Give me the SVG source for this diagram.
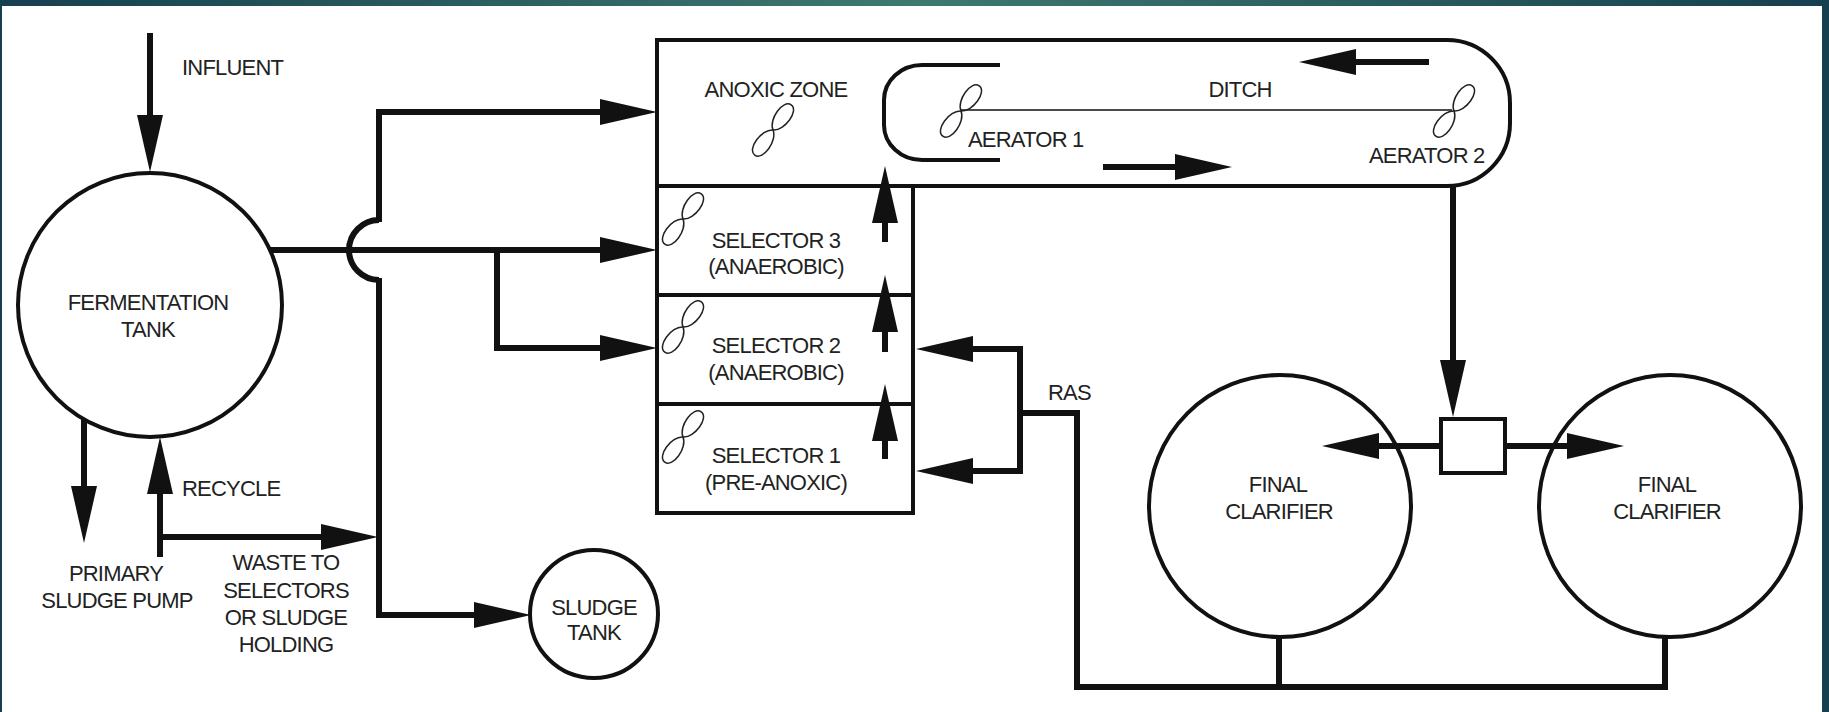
<svg xmlns="http://www.w3.org/2000/svg" width="1829" height="712" viewBox="0 0 1829 712">
<defs>
<linearGradient id="band" x1="0" y1="0" x2="1" y2="0">
<stop offset="0" stop-color="#163f4f"/>
<stop offset="0.5" stop-color="#3d7a6e"/>
<stop offset="1" stop-color="#163f4f"/>
</linearGradient>
<marker id="ah" markerUnits="userSpaceOnUse" markerWidth="58" markerHeight="28" viewBox="-1 -14 58 28" refX="0" refY="0" orient="auto">
<path d="M-1,-13 L56,0 L-1,13 Z" fill="#111"/>
</marker>
<g id="mixer">
<g transform="rotate(-54)">
<path d="M0 0 C6 -10 31 -10 31 0 C31 10 6 10 0 0 Z"/>
<path d="M0 0 C-6 10 -31 10 -31 0 C-31 -10 -6 -10 0 0 Z"/>
</g>
</g>
</defs>
<style>
.t{font-family:"Liberation Sans",Arial,Helvetica,sans-serif;font-size:22px;fill:#222;letter-spacing:-0.8px}
.m{text-anchor:middle}
.ln{fill:none;stroke:#111;stroke-width:6;stroke-linejoin:miter}
.arr{marker-end:url(#ah)}
.ol{fill:none;stroke:#111;stroke-width:4}
.tank{fill:#fff;stroke:#111;stroke-width:4}
.mix{fill:none;stroke:#222;stroke-width:1.5}
</style>
<rect x="0" y="0" width="1829" height="712" fill="url(#band)"/>
<rect x="2" y="6" width="1820" height="706" fill="#fff"/>

<g id="connectors">
<path class="ln arr" d="M150 33 V116"/>
<path class="ln arr" d="M268 250 H601"/>
<path class="ln arr" d="M379 222 V112 H601"/>
<path class="ln" d="M379 220 A30 30 0 0 0 379 280" stroke-width="5"/>
<path class="ln arr" d="M379 278 V615 H475"/>
<path class="ln arr" d="M497 250 V348 H601"/>
<path class="ln arr" d="M160 557 V493"/>
<path class="ln arr" d="M160 537 H322"/>
<path class="ln arr" d="M84 417 V487"/>
<path class="ln arr" d="M885 242 V222"/>
<path class="ln arr" d="M885 352 V331"/>
<path class="ln arr" d="M885 459 V440"/>
<path class="ln arr" d="M1020 413 V349 H972"/>
<path class="ln arr" d="M1020 413 V471 H972"/>
<path class="ln" d="M1020 413 H1077 V687 H1665 V637"/>
<path class="ln" d="M1279 687 V637"/>
<path class="ln arr" d="M1453 186 V361"/>
<path class="ln arr" d="M1439 446 H1378"/>
<path class="ln arr" d="M1506 446 H1568"/>
<path class="ln arr" d="M1429 62 H1355"/>
<path class="ln arr" d="M1103 167 H1176"/>
<text class="t" x="182" y="75">INFLUENT</text>
<text class="t" x="182" y="496">RECYCLE</text>
<text class="t m" x="116" y="581">PRIMARY</text>
<text class="t m" x="117" y="608">SLUDGE PUMP</text>
<text class="t m" x="286" y="570">WASTE TO</text>
<text class="t m" x="286" y="598">SELECTORS</text>
<text class="t m" x="286" y="625">OR SLUDGE</text>
<text class="t m" x="286" y="652">HOLDING</text>
<text class="t" x="1048" y="400">RAS</text>
</g>

<g id="fermentation-tank">
<circle class="tank" cx="150" cy="305" r="132"/>
<text class="t m" x="148" y="310">FERMENTATION</text>
<text class="t m" x="148" y="337">TANK</text>
</g>

<g id="sludge-tank">
<circle class="tank" cx="594" cy="614" r="64" stroke-width="3"/>
<text class="t m" x="594" y="615">SLUDGE</text>
<text class="t m" x="594" y="640">TANK</text>
</g>

<g id="anoxic-zone-ditch">
<path class="ol" d="M913 186 H657 V40 H1447 A63 63 0 0 1 1510 103 V123 A63 63 0 0 1 1447 186 H911"/>
<path class="ol" d="M1000 65 H922 A38 35 0 0 0 884 100 V125 A38 35 0 0 0 922 160 H1000" stroke-width="3.5"/>
<line x1="961" y1="110" x2="1452" y2="110" stroke="#111" stroke-width="1.6"/>
<use href="#mixer" class="mix" transform="translate(773 130)"/>
<use href="#mixer" class="mix" transform="translate(961 111)"/>
<use href="#mixer" class="mix" transform="translate(1454 111)"/>
<text class="t m" x="776" y="97">ANOXIC ZONE</text>
<text class="t" x="968" y="147">AERATOR 1</text>
<text class="t m" x="1240" y="97">DITCH</text>
<text class="t" x="1369" y="163">AERATOR 2</text>
</g>

<g id="selector-3">
<rect class="ol" x="657" y="186" width="256" height="109"/>
<use href="#mixer" class="mix" transform="translate(683 219)"/>
<text class="t m" x="776" y="248">SELECTOR 3</text>
<text class="t m" x="776" y="274">(ANAEROBIC)</text>
</g>
<g id="selector-2">
<rect class="ol" x="657" y="295" width="256" height="109"/>
<use href="#mixer" class="mix" transform="translate(683 327)"/>
<text class="t m" x="776" y="353">SELECTOR 2</text>
<text class="t m" x="776" y="380">(ANAEROBIC)</text>
</g>
<g id="selector-1">
<rect class="ol" x="657" y="404" width="256" height="109"/>
<use href="#mixer" class="mix" transform="translate(683 437)"/>
<text class="t m" x="776" y="463">SELECTOR 1</text>
<text class="t m" x="776" y="490">(PRE-ANOXIC)</text>
</g>

<g id="splitter-box">
<rect class="ol" x="1441" y="419" width="64" height="54" fill="#fff"/>
</g>

<g id="final-clarifier-1">
<circle class="ol" cx="1280" cy="506" r="131"/>
<text class="t m" x="1278" y="492">FINAL</text>
<text class="t m" x="1279" y="519">CLARIFIER</text>
</g>
<g id="final-clarifier-2">
<circle class="ol" cx="1670" cy="506" r="131"/>
<text class="t m" x="1667" y="492">FINAL</text>
<text class="t m" x="1667" y="519">CLARIFIER</text>
</g>
</svg>
